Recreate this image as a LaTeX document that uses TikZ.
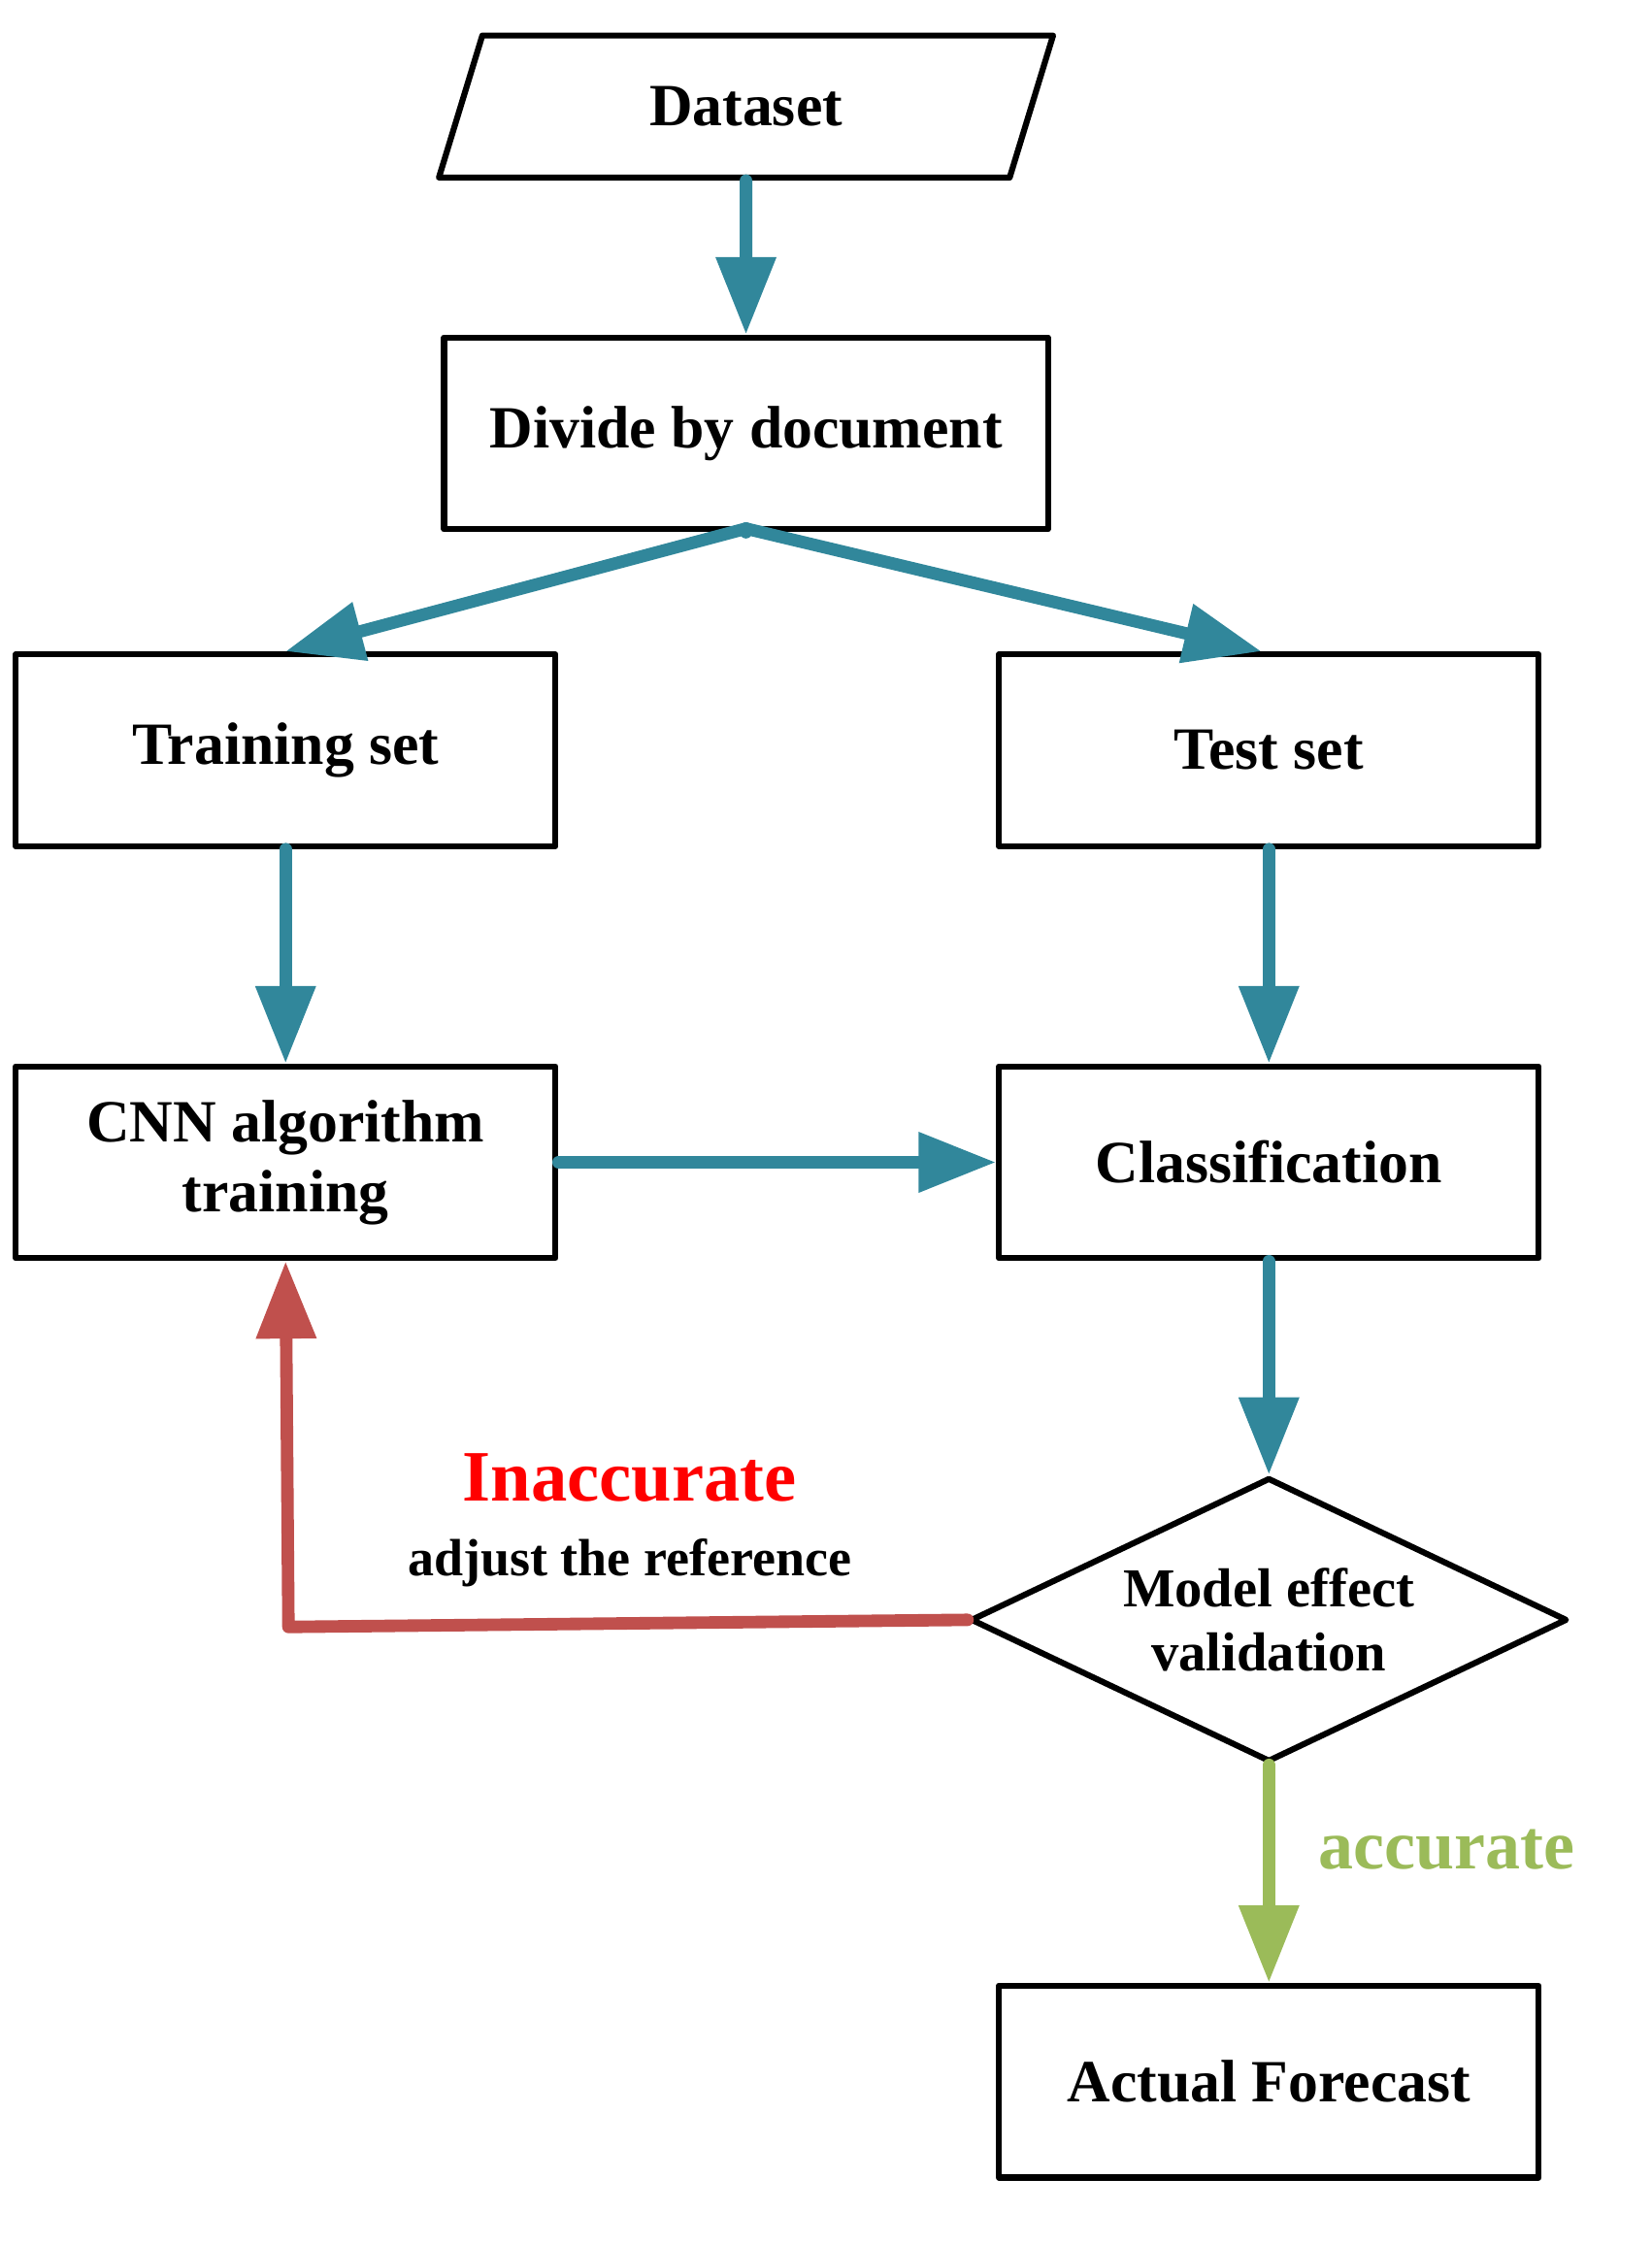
\documentclass[tikz,border=0pt]{standalone}
\usepackage{fontspec}
\setmainfont{Liberation Serif}
\usetikzlibrary{arrows.meta}
\usetikzlibrary{shapes.geometric}
\usetikzlibrary{calc}
\begin{document}
\begin{tikzpicture}[x=0.02cm,y=-0.02cm,line join=round]
		\tikzstyle{box}=[rectangle,draw,line width=2.4pt,
			minimum width=7.6cm,minimum height=2.7cm,font=\fontsize{24}{28}\selectfont\bfseries,
			align=center];
		\tikzstyle{flow}=[line width=5pt,line cap=round,-{Triangle[length=31pt,width=23pt]}];
		\useasboundingbox(0,0)rectangle(1162,1580);
		\node[trapezium,trapezium left angle=73,trapezium right angle=107,draw,line width=2.4pt,
			minimum width=4cm,minimum height=2cm,
			font=\fontsize{24}{28}\selectfont\bfseries](data)at(525,75){Dataset};
		\node[box,minimum width=8.5cm](div)at(525,305){Divide by document};
		\node[box](train)at(201,528){Training set};
		\node[box](test)at(893,528){Test set};
		\node[box](cnn)at(201,818){CNN algorithm\\training};
		\node[box](cls)at(893,818){Classification};
		\node[diamond,draw,line width=2.4pt,minimum width=8.4cm,minimum height=4cm,inner sep=0pt,
			shape aspect=2.1,font=\fontsize{22}{26}\selectfont\bfseries,align=center](val)at(893,1140){Model effect\\validation};
		\node[box](act)at(893,1465){Actual Forecast};
		\coordinate(split)at(525,372);
		\coordinate(bend)at(203,1145);

		\begin{scope}[draw={rgb,255:red,49;green,135;blue,155}]
		\draw[flow](data)--(div);
		\draw[flow,-](div.south)--(split);
		\draw[flow](split)--(train.north);
		\draw[flow](split)--([xshift=-3pt]test.north);
		\draw[flow](train)--(cnn);
		\draw[flow](test)--(cls);
		\draw[flow](cnn)--(cls);
		\draw[flow](cls)--(val);
		\end{scope}
		\draw[flow,draw={rgb,255:red,192;green,80;blue,77}](val.west)--(bend)--(cnn.south);
		\draw[flow,draw={rgb,255:red,155;green,187;blue,89}](val.south)--(act.north);

		\node[text=red,font=\fontsize{29}{33}\selectfont\bfseries](inacc)at(443,1040){Inaccurate};
		\node[font=\fontsize{21}{25}\selectfont\bfseries](adj)at(443,1100){adjust the reference};
		\node[text={rgb,255:red,155;green,187;blue,89},font=\fontsize{28}{32}\selectfont\bfseries](acc)at(1018,1302){accurate};
	\end{tikzpicture}
\end{document}
